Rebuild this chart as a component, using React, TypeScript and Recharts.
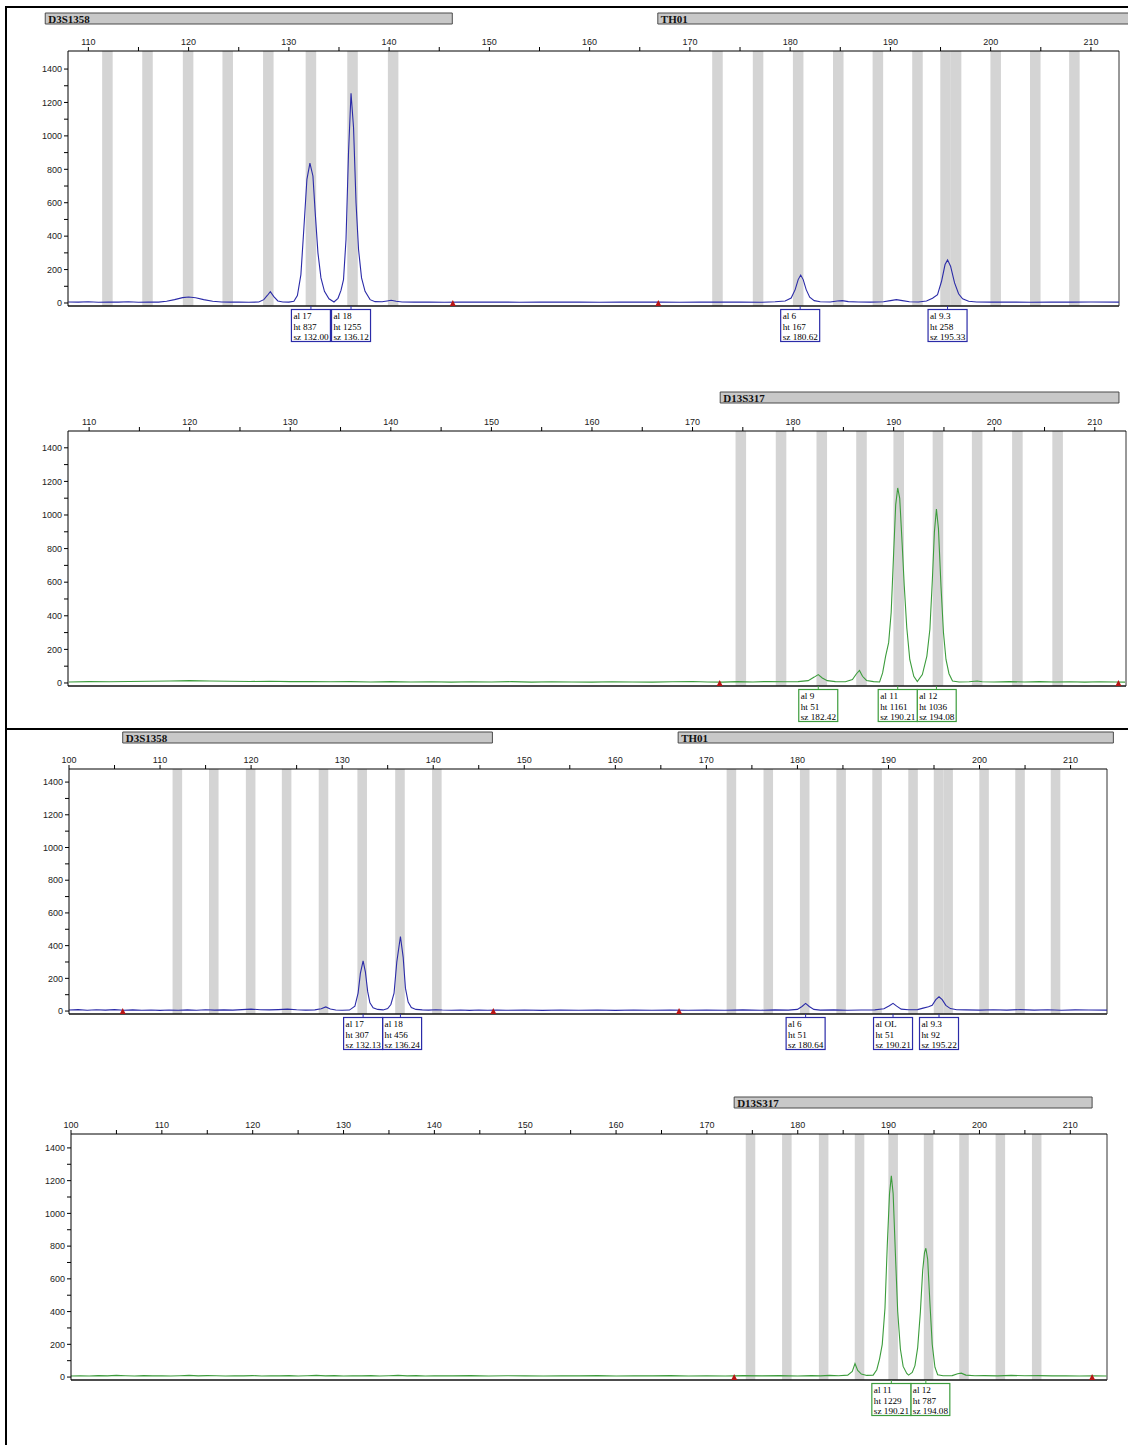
import React from 'react';
import { ComposedChart, Line, Scatter, XAxis, YAxis, ReferenceArea, ReferenceLine } from 'recharts';

type Pt = [number, number];

// axis ticks
const X_TICKS_RUN1 = [110, 115, 120, 125, 130, 135, 140, 145, 150, 155, 160, 165, 170, 175, 180, 185, 190, 195, 200, 205, 210];
const X_TICKS_RUN2 = [100, 105, 110, 115, 120, 125, 130, 135, 140, 145, 150, 155, 160, 165, 170, 175, 180, 185, 190, 195, 200, 205, 210];
const Y_TICKS = [0, 100, 200, 300, 400, 500, 600, 700, 800, 900, 1000, 1100, 1200, 1300, 1400];

// ladder bins (bp centres)
const BINS_D3S1358 = [111.9, 115.9, 119.95, 123.9, 127.95, 132.2, 136.35, 140.4];
const BINS_TH01 = [172.75, 176.8, 180.8, 184.8, 188.75, 192.7, 195.5, 196.55, 200.5, 204.45, 208.35];
const BINS_D13S317 = [174.8, 178.8, 182.85, 186.8, 190.5, 194.4, 198.3, 202.3, 206.3];
const BIN_WIDTH = 1.05;

// marker ranges
const MARKERS_BLUE_1 = [
  { name: 'D3S1358', from: 105.7, to: 146.3 },
  { name: 'TH01', from: 166.8, to: 214.8 },
];
const MARKERS_GREEN_1 = [{ name: 'D13S317', from: 172.75, to: 212.4 }];
const MARKERS_BLUE_2 = [
  { name: 'D3S1358', from: 105.9, to: 146.5 },
  { name: 'TH01', from: 166.9, to: 214.7 },
];
const MARKERS_GREEN_2 = [{ name: 'D13S317', from: 173.0, to: 212.4 }];

// red triangles on the baseline
const TRI_BLUE_1 = [146.35, 166.85];
const TRI_GREEN_1 = [172.7, 212.35];
const TRI_BLUE_2 = [105.9, 146.6, 167.0];
const TRI_GREEN_2 = [173.0, 212.4];

// allele calls: peak position, allele, height, size
const CALLS_BLUE_1 = [
  { pos: 132.2, al: '17', ht: '837', sz: '132.00' },
  { pos: 136.2, al: '18', ht: '1255', sz: '136.12' },
  { pos: 181.0, al: '6', ht: '167', sz: '180.62' },
  { pos: 195.7, al: '9.3', ht: '258', sz: '195.33' },
];
const CALLS_GREEN_1 = [
  { pos: 182.5, al: '9', ht: '51', sz: '182.42' },
  { pos: 190.4, al: '11', ht: '1161', sz: '190.21' },
  { pos: 194.25, al: '12', ht: '1036', sz: '194.08' },
];
const CALLS_BLUE_2 = [
  { pos: 132.3, al: '17', ht: '307', sz: '132.13' },
  { pos: 136.4, al: '18', ht: '456', sz: '136.24' },
  { pos: 180.9, al: '6', ht: '51', sz: '180.64' },
  { pos: 190.5, al: 'OL', ht: '51', sz: '190.21' },
  { pos: 195.55, al: '9.3', ht: '92', sz: '195.22' },
];
const CALLS_GREEN_2 = [
  { pos: 190.3, al: '11', ht: '1229', sz: '190.21' },
  { pos: 194.1, al: '12', ht: '787', sz: '194.08' },
];

// traces [bp, rfu]
const TRACE_BLUE_1: Pt[] = [
  [108, 6], [109, 5], [110, 7], [111, 4], [112, 6], [113, 5], [114, 7], [115, 4], [116, 6], [117, 5],
  [117.8, 10], [118.6, 20], [119.4, 32], [120.0, 36], [120.7, 31], [121.5, 20], [122.4, 10], [123.3, 6],
  [124.2, 5], [125, 6], [126, 4], [127, 6], [127.5, 20], [127.85, 45], [128.15, 68], [128.5, 38], [128.9, 12],
  [129.4, 6], [130.0, 5], [130.5, 10], [130.85, 45], [131.2, 170], [131.5, 450], [131.8, 740], [132.1, 837],
  [132.4, 760], [132.65, 520], [132.9, 300], [133.2, 150], [133.55, 70], [134.0, 25], [134.5, 6], [134.9, 28],
  [135.2, 75], [135.45, 140], [135.7, 380], [135.95, 900], [136.2, 1255], [136.45, 1050], [136.7, 600],
  [136.95, 320], [137.25, 150], [137.6, 70], [138.1, 20], [138.6, 8], [139.3, 7], [139.8, 12], [140.2, 16],
  [140.7, 10], [141.3, 6], [142.5, 5], [144, 6], [145.5, 4], [147, 6], [149, 5], [151, 6], [153, 4], [155, 6],
  [157, 5], [159, 6], [161, 4], [163, 6], [165, 5], [167, 6], [169, 4], [171, 6], [173, 5], [175, 6], [177, 4],
  [178.5, 7], [179.5, 12], [180.1, 30], [180.5, 80], [180.8, 140], [181.05, 167], [181.3, 140], [181.6, 80],
  [181.95, 35], [182.4, 14], [183, 7], [184, 6], [184.7, 12], [185.2, 14], [185.8, 8], [186.8, 6], [188, 5],
  [189.3, 7], [190.0, 14], [190.6, 20], [191.2, 14], [191.9, 7], [192.8, 6], [193.6, 12], [194.2, 28],
  [194.7, 50], [195.1, 130], [195.45, 230], [195.7, 258], [196.0, 220], [196.4, 120], [196.8, 55], [197.2, 25],
  [197.8, 10], [198.6, 6], [200, 5], [202, 6], [204, 4], [206, 6], [208, 5], [210, 6], [212.8, 5],
];

const TRACE_GREEN_1: Pt[] = [
  [108, 6], [110, 8], [112, 7], [114, 9], [116, 10], [118, 12], [120, 14], [122, 12], [124, 10], [126, 9],
  [128, 10], [130, 8], [132, 9], [134, 7], [136, 8], [138, 6], [140, 8], [142, 6], [144, 7], [146, 5], [148, 7],
  [150, 6], [152, 8], [154, 5], [156, 7], [158, 6], [160, 5], [162, 7], [164, 6], [166, 5], [168, 7], [170, 9],
  [171.5, 6], [173, 5], [174.5, 8], [176, 6], [177.5, 9], [179, 7], [180.5, 8], [181.5, 14], [182.1, 35],
  [182.5, 50], [182.9, 30], [183.4, 14], [184.2, 8], [185.2, 7], [185.9, 20], [186.3, 55], [186.6, 75],
  [186.9, 40], [187.3, 15], [188, 8], [188.6, 6], [188.9, 60], [189.2, 160], [189.5, 240], [189.75, 420],
  [190.0, 780], [190.2, 1060], [190.4, 1161], [190.6, 1100], [190.85, 820], [191.05, 580], [191.3, 330],
  [191.6, 140], [192.0, 40], [192.35, 8], [192.85, 50], [193.3, 160], [193.6, 320], [193.85, 620],
  [194.05, 900], [194.25, 1036], [194.45, 920], [194.7, 580], [194.95, 300], [195.2, 140], [195.5, 55],
  [195.85, 12], [196.5, 6], [197.5, 7], [198.3, 12], [198.8, 7], [200, 6], [201.5, 8], [203, 6], [204.5, 8],
  [206, 6], [207.5, 7], [209, 5], [210.5, 7], [212, 6], [213, 5],
];

const TRACE_BLUE_2: Pt[] = [
  [100, 6], [101, 9], [102, 5], [103, 8], [104, 6], [105, 9], [106, 5], [107, 7], [108, 5], [109, 6], [110, 4],
  [111, 6], [112, 5], [113, 7], [114, 5], [115, 8], [116, 6], [117, 7], [118, 6], [119, 9], [120, 12], [121, 8],
  [122, 7], [123, 9], [124, 12], [125, 8], [126, 6], [127, 7], [127.7, 14], [128.2, 25], [128.7, 12],
  [129.3, 6], [130, 5], [130.8, 6], [131.4, 30], [131.75, 110], [132.0, 230], [132.3, 307], [132.55, 240],
  [132.8, 120], [133.05, 50], [133.4, 20], [133.9, 10], [134.5, 7], [135.0, 15], [135.35, 40], [135.7, 110],
  [136.0, 300], [136.4, 456], [136.7, 330], [136.95, 140], [137.25, 55], [137.6, 22], [138.1, 10], [138.8, 7],
  [139.5, 6], [140.3, 8], [141, 6], [142, 5], [143, 6], [144, 4], [145, 6], [146, 5], [147, 6], [148, 5],
  [150, 6], [152, 4], [154, 6], [156, 5], [158, 6], [160, 4], [162, 6], [164, 5], [166, 6], [168, 5], [170, 6],
  [172, 5], [174, 7], [176, 5], [177.5, 7], [179, 6], [180, 10], [180.5, 28], [180.9, 47], [181.3, 28],
  [181.8, 10], [182.5, 6], [184, 7], [185.5, 5], [187, 6], [188.5, 7], [189.5, 14], [190.1, 32], [190.5, 47],
  [190.9, 30], [191.4, 12], [192.2, 8], [193.2, 9], [193.8, 18], [194.4, 26], [194.8, 35], [195.2, 70],
  [195.55, 87], [195.9, 70], [196.3, 35], [196.8, 15], [197.5, 8], [198.5, 7], [200, 6], [201.5, 8], [203, 6],
  [204.5, 9], [206, 6], [207.5, 8], [209, 5], [210.5, 7], [212, 6], [214, 6],
];

const TRACE_GREEN_2: Pt[] = [
  [100, 6], [101, 8], [102, 6], [103, 9], [104, 7], [105, 10], [106, 8], [107, 6], [108, 9], [109, 7], [110, 8],
  [111, 6], [112, 8], [113, 10], [114, 7], [115, 9], [116, 8], [117, 6], [118, 8], [119, 7], [120, 9], [121, 6],
  [122, 8], [123, 7], [124, 9], [125, 6], [126, 8], [127, 10], [128, 7], [129, 9], [130, 6], [131, 8], [132, 7],
  [133, 9], [134, 6], [135, 8], [136, 10], [137, 7], [138, 9], [139, 6], [140, 8], [142, 7], [144, 9], [146, 6],
  [148, 8], [150, 7], [152, 6], [154, 8], [156, 7], [158, 9], [160, 6], [162, 8], [164, 7], [166, 9], [168, 6],
  [170, 8], [172, 6], [174, 9], [176, 7], [178, 9], [180, 6], [181.5, 9], [182.5, 7], [183.5, 10], [184.5, 8],
  [185.5, 12], [186.0, 35], [186.3, 82], [186.6, 40], [187.0, 18], [187.6, 10], [188.3, 12], [188.7, 45],
  [189.0, 110], [189.3, 200], [189.6, 420], [189.85, 800], [190.1, 1120], [190.3, 1229], [190.5, 1120],
  [190.75, 750], [191.0, 400], [191.3, 170], [191.6, 65], [192.0, 22], [192.2, 12], [192.6, 28], [192.9, 70],
  [193.2, 180], [193.5, 400], [193.75, 650], [193.95, 760], [194.1, 787], [194.3, 720], [194.55, 450],
  [194.8, 200], [195.1, 60], [195.4, 14], [196, 8], [197, 9], [197.6, 20], [198.0, 24], [198.5, 12],
  [199.5, 8], [200.5, 9], [202, 7], [203.5, 10], [205, 8], [206.5, 9], [208, 7], [209.5, 8], [211, 6],
  [212.5, 7], [214, 6],
];

const BLUE = '#2b2ba8';
const GREEN = '#3c9c3c';
const BIN_FILL = '#d4d4d4';
const TICK_FONT = { fontSize: 9, fill: '#222', fontFamily: 'Liberation Sans, Arial, sans-serif' };
const CANVAS_W = 1128;
const BOX_W = 39;
const BOX_H = 32;

type Call = { pos: number; al: string; ht: string; sz: string };
type Marker = { name: string; from: number; to: number };

const MarkerLabel = (props: any) => {
  const { viewBox, text } = props;
  if (!viewBox) return null;
  return (
    <text x={viewBox.x + 3} y={viewBox.y + viewBox.height - 1.5} fontSize={11} fontWeight="bold"
      fontFamily="Liberation Serif, Times New Roman, serif" fill="#111">
      {text}
    </text>
  );
};

const makeCallBox = (color: string) => (props: any) => {
  const { cx, cy, payload } = props;
  const top = cy + 3.5;
  const left = cx - BOX_W / 2 + (payload.shift || 0);
  const font = { fontSize: 9.2, fontFamily: 'Liberation Serif, Times New Roman, serif', fill: '#000' };
  return (
    <g>
      <line x1={cx} y1={cy} x2={cx} y2={top} stroke={color} strokeWidth={1} />
      <rect x={left} y={top} width={BOX_W} height={BOX_H} fill="#fff" stroke={color} strokeWidth={1.2} />
      <text x={left + 2} y={top + 9.5} {...font}>al {payload.al}</text>
      <text x={left + 2} y={top + 20} {...font}>ht {payload.ht}</text>
      <text x={left + 2} y={top + 30.5} {...font}>sz {payload.sz}</text>
    </g>
  );
};

const Triangle = (props: any) => {
  const { cx, cy } = props;
  return <polygon points={`${cx - 3},${cy} ${cx + 3},${cy} ${cx},${cy - 6}`} fill="#b81414" />;
};

type PanelProps = {
  markerTop: number;
  plotTop: number;
  plotBottom: number;
  plotLeft: number;
  plotRight: number;
  xDomain: [number, number];
  yDomain: [number, number];
  xTicks: number[];
  color: string;
  trace: Pt[];
  bins: number[];
  markers: Marker[];
  triangles: number[];
  calls: Call[];
};

function Panel(p: PanelProps) {
  const axisH = 22;
  const bottomPad = 42;
  const chartTop = p.plotTop - axisH;
  const height = p.plotBottom + bottomPad - chartTop;
  const right = CANVAS_W - p.plotRight;
  const rows = p.trace.map(([x, y]) => ({ x, y }));
  const triRows = p.triangles.map((x) => ({ x, y: p.yDomain[0] }));

  // nudge a call box right when it would run into the previous one
  const pxPerBp = (p.plotRight - p.plotLeft) / (p.xDomain[1] - p.xDomain[0]);
  let prevRight = -Infinity;
  const placed = p.calls.map((c) => {
    const cx = (c.pos - p.xDomain[0]) * pxPerBp;
    const shift = Math.max(0, prevRight - (cx - BOX_W / 2));
    prevRight = cx - BOX_W / 2 + shift + BOX_W;
    return { ...c, shift, x: c.pos, y: p.yDomain[0] };
  });
  const callRows = placed.reverse();
  const markerRows = p.markers.flatMap((m) => [{ x: m.from }, { x: m.to }]);

  return (
    <>
      <div style={{ position: 'absolute', left: 0, top: p.markerTop - 1 }}>
        <ComposedChart width={CANVAS_W} height={13} data={markerRows}
          margin={{ top: 1, right, bottom: 1, left: p.plotLeft }}>
          <XAxis hide type="number" dataKey="x" domain={p.xDomain} allowDataOverflow />
          <YAxis hide type="number" domain={[0, 1]} allowDataOverflow />
          {p.markers.map((m) => (
            <ReferenceArea key={m.name} x1={m.from} x2={m.to} y1={0} y2={1} ifOverflow="visible"
              fill="#c8c8c8" fillOpacity={1} stroke="#4a4a4a" strokeWidth={1}
              label={<MarkerLabel text={m.name} />} />
          ))}
        </ComposedChart>
      </div>
      <div style={{ position: 'absolute', left: 0, top: chartTop }}>
        <ComposedChart width={CANVAS_W} height={height} margin={{ top: 0, right, bottom: bottomPad, left: 0 }}>
          <XAxis type="number" dataKey="x" orientation="top" domain={p.xDomain}
            ticks={p.xTicks} interval={0} height={axisH} tickSize={4}
            tickFormatter={(v: number) => (v % 10 === 0 ? String(v) : '')}
            tick={TICK_FONT} axisLine={{ stroke: '#000' }} tickLine={{ stroke: '#000' }} />
          <YAxis type="number" dataKey="y" domain={p.yDomain} width={p.plotLeft}
            ticks={Y_TICKS} interval={0} tickSize={4}
            tickFormatter={(v: number) => (v % 200 === 0 ? String(v) : '')}
            tick={TICK_FONT} axisLine={{ stroke: '#000' }} tickLine={{ stroke: '#000' }} />
          {p.bins.map((c) => (
            <ReferenceArea key={c} x1={c - BIN_WIDTH / 2} x2={c + BIN_WIDTH / 2}
              fill={BIN_FILL} fillOpacity={1} stroke="none" />
          ))}
          <ReferenceLine y={p.yDomain[0]} stroke="#111" strokeWidth={1.5} />
          <ReferenceLine x={p.xDomain[1]} stroke="#333" strokeWidth={1} />
          <Line data={rows} dataKey="y" type="linear" stroke={p.color} strokeWidth={1.1}
            dot={false} activeDot={false} isAnimationActive={false} />
          <Scatter data={triRows} dataKey="y" shape={Triangle} isAnimationActive={false} />
          <Scatter data={callRows} dataKey="y" shape={makeCallBox(p.color)} isAnimationActive={false} />
        </ComposedChart>
      </div>
    </>
  );
}

export default function App() {
  return (
    <div style={{ position: 'relative', width: CANVAS_W, height: 1445, background: '#fff', overflow: 'hidden' }}>
      <style>{'body{margin:0;}'}</style>
      <Panel markerTop={13} plotTop={51} plotBottom={306} plotLeft={68} plotRight={1119}
        xDomain={[107.97, 212.8]} yDomain={[-18, 1508]} xTicks={X_TICKS_RUN1} color={BLUE}
        trace={TRACE_BLUE_1} bins={[...BINS_D3S1358, ...BINS_TH01]} markers={MARKERS_BLUE_1}
        triangles={TRI_BLUE_1} calls={CALLS_BLUE_1} />
      <Panel markerTop={392} plotTop={431} plotBottom={686} plotLeft={68} plotRight={1126}
        xDomain={[107.9, 213.1]} yDomain={[-18, 1500]} xTicks={X_TICKS_RUN1} color={GREEN}
        trace={TRACE_GREEN_1} bins={BINS_D13S317} markers={MARKERS_GREEN_1}
        triangles={TRI_GREEN_1} calls={CALLS_GREEN_1} />
      <Panel markerTop={732} plotTop={769} plotBottom={1014} plotLeft={69} plotRight={1107}
        xDomain={[100, 214.0]} yDomain={[-18, 1480]} xTicks={X_TICKS_RUN2} color={BLUE}
        trace={TRACE_BLUE_2} bins={[...BINS_D3S1358, ...BINS_TH01]} markers={MARKERS_BLUE_2}
        triangles={TRI_BLUE_2} calls={CALLS_BLUE_2} />
      <Panel markerTop={1097} plotTop={1134} plotBottom={1380} plotLeft={71} plotRight={1107}
        xDomain={[100, 214.04]} yDomain={[-18, 1485]} xTicks={X_TICKS_RUN2} color={GREEN}
        trace={TRACE_GREEN_2} bins={BINS_D13S317} markers={MARKERS_GREEN_2}
        triangles={TRI_GREEN_2} calls={CALLS_GREEN_2} />
      <div style={{ position: 'absolute', left: 5, top: 6, width: 1123, height: 2, background: '#000' }} />
      <div style={{ position: 'absolute', left: 5, top: 6, width: 2, height: 1439, background: '#000' }} />
      <div style={{ position: 'absolute', left: 5, top: 728, width: 1123, height: 2, background: '#000' }} />
    </div>
  );
}
